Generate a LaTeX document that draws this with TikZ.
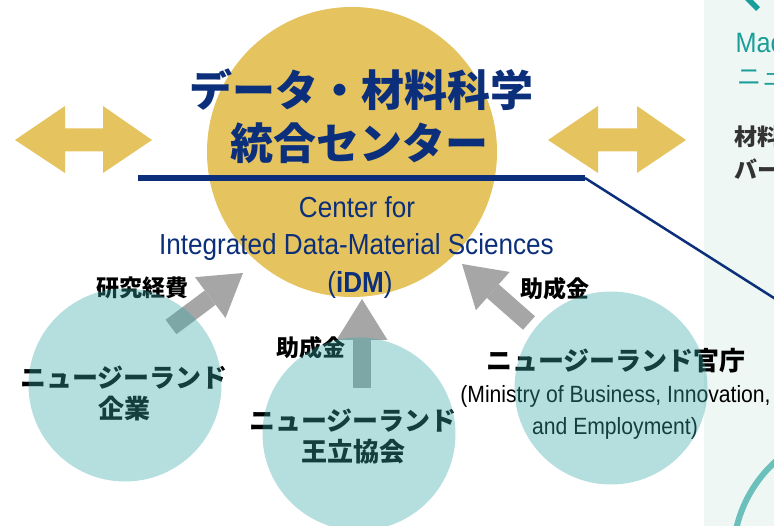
\documentclass[tikz,border=0pt]{standalone}
\usepackage{fontspec}
\setmainfont{Liberation Sans}
\newfontfamily\nar[FakeStretch=0.9]{Liberation Sans}
\newfontfamily\jp{Noto Sans CJK JP}
\usetikzlibrary{arrows.meta}
\definecolor{gold}{HTML}{E5C35E}
\definecolor{navy}{HTML}{0B2F7A}
\definecolor{agray}{HTML}{A6A6A6}
\definecolor{tealc}{HTML}{37A8A8}
\definecolor{panel}{HTML}{EEF7F3}
\definecolor{tealtxt}{HTML}{1A9E9A}
\definecolor{tealarc}{HTML}{6CC0BC}
\definecolor{dgray}{HTML}{333333}
\tikzset{
  titletext/.style={inner sep=0pt, text=navy, font=\jp\bfseries\fontsize{43}{43}\selectfont},
  entext/.style={inner sep=0pt, text=navy, font=\nar\fontsize{29}{29}\selectfont, anchor=base},
  jplabel/.style={inner sep=0pt, text=black, font=\jp\bfseries\fontsize{23}{23}\selectfont},
  circtext/.style={inner sep=0pt, text=black, align=center, font=\jp\bfseries\fontsize{26}{31}\selectfont},
  mintext/.style={inner sep=0pt, text=black, anchor=base, font=\nar\fontsize{23.5}{23.5}\selectfont},
  bubble/.style={circle, fill=tealc, fill opacity=0.37, inner sep=0pt, minimum size=193pt},
  fatarrow/.style={draw=agray, line width=18pt, -{Triangle[length=41pt,width=51pt,line width=0pt]}},
  goldarrow/.style={fill=gold},
}
\begin{document}
\begin{tikzpicture}[x=1pt,y=-1pt]
\useasboundingbox (0,0) rectangle (774,526);
\fill[white] (0,0) rectangle (774,526);
% right panel
\fill[panel] (704,0) rectangle (774,526);
\draw[tealtxt, line width=5.5pt] (744,-5) -- (758,9);
\node[inner sep=0pt, anchor=base west, text=tealtxt, font=\nar\fontsize{28}{28}\selectfont] (mac) at (735.5,53) {Mac};
\node[inner sep=0pt, anchor=west, text=tealtxt, font=\jp\fontsize{24}{24}\selectfont] (nz) at (737,78) {ニュ};
\node[inner sep=0pt, anchor=west, text=dgray, font=\jp\bfseries\fontsize{23}{23}\selectfont] (zai) at (734,137) {材料};
\node[inner sep=0pt, anchor=west, text=dgray, font=\jp\bfseries\fontsize{23}{23}\selectfont] (ba) at (734,169) {バー};
\draw[tealarc, line width=6pt] (863,557.6) circle (130);
% gold core circle
\node[circle, fill=gold, inner sep=0pt, minimum size=290pt] (core) at (352,152) {};
% gold double arrows
\fill[goldarrow] (15,140) -- (65,106) -- (65,128.5) -- (103,128.5) -- (103,106) -- (152,140)
  -- (103,173) -- (103,151.5) -- (65,151.5) -- (65,173) -- cycle;
\fill[goldarrow] (548,140) -- (598,106) -- (598,128.5) -- (637,128.5) -- (637,106) -- (686,140)
  -- (637,173) -- (637,151.5) -- (598,151.5) -- (598,173) -- cycle;
% navy lines
\coordinate (l1) at (138,178);
\coordinate (l2) at (585,178);
\coordinate (l3) at (790,308.2);
\draw[navy, line width=6pt] (l1) -- (l2);
\draw[navy, line width=2.5pt] (l2) -- (l3);
% titles
\node[titletext] (t1) at (361,90) {データ・材料科学};
\node[titletext] (t2) at (359,143) {統合センター};
\node[entext] (e1) at (357,218) {Center for};
\node[entext] (e2) at (356.5,255) {Integrated Data-Material Sciences};
\node[entext] (e3) at (360,293) {(\textbf{iDM})};
% gray arrows
\coordinate (a1t) at (171,327); \coordinate (a1h) at (243,273);
\coordinate (a2t) at (362,388); \coordinate (a2h) at (362,299);
\coordinate (a3t) at (529,323); \coordinate (a3h) at (462,264);
\draw[fatarrow] (a1t) -- (a1h);
\draw[fatarrow] (a2t) -- (a2h);
\draw[fatarrow] (a3t) -- (a3h);
% labels
\node[jplabel] (lb1) at (142.5,288) {研究経費};
\node[jplabel] (lb2) at (311,347.5) {助成金};
\node[jplabel] (lb3) at (555,288.5) {助成金};
% circle texts
\node[circtext] (ct1) at (124,393.5) {ニュージーランド\\企業};
\node[circtext] (ct2) at (353,436.5) {ニュージーランド\\王立協会};
\node[circtext] (ct3) at (616,361) {ニュージーランド官庁};
\node[mintext] (m1) at (615.5,403) {(Ministry of Business, Innovation,};
\node[mintext] (m2) at (615,435) {and Employment)};
% overlay circles
\node[bubble] (c1) at (125,385) {};
\node[bubble] (c2) at (359,434) {};
\node[bubble] (c3) at (611,388) {};
\end{tikzpicture}
\end{document}
